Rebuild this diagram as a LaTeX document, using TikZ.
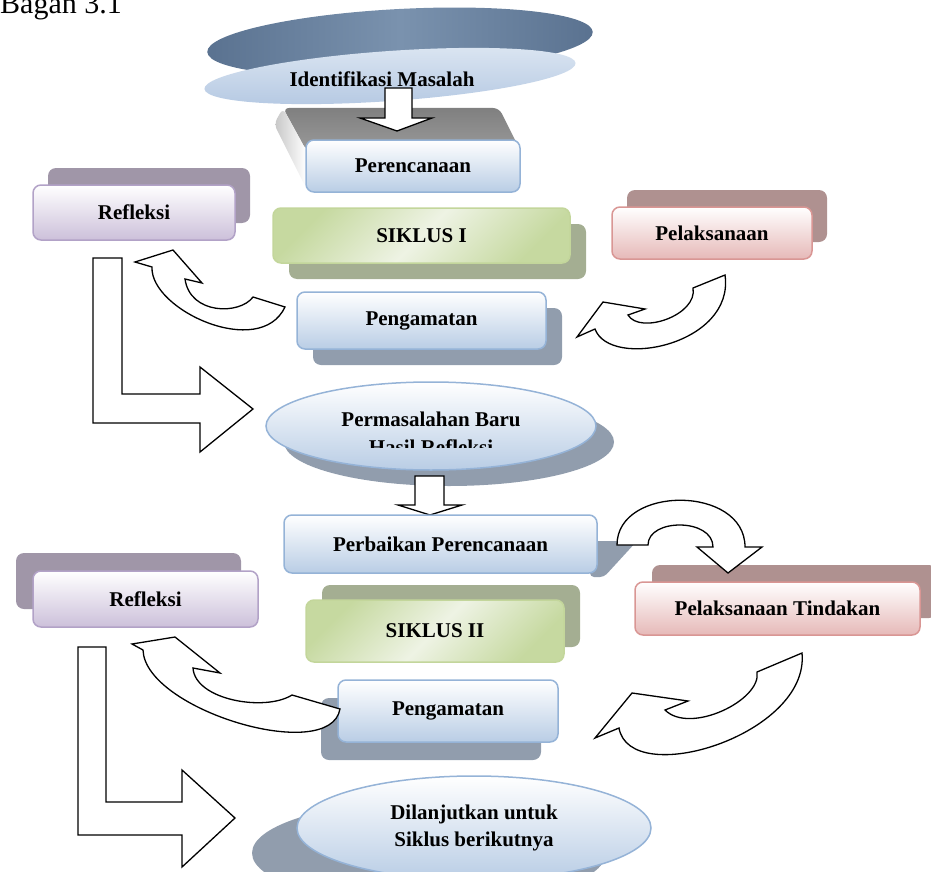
\documentclass[tikz,border=0pt]{standalone}
\usepackage{fontspec}
\setmainfont{Liberation Serif}
\usetikzlibrary{shapes.geometric,shadows}
\definecolor{purpleline}{HTML}{B2A2C7}
\definecolor{purplefill}{HTML}{CCC0DA}
\definecolor{purpleshade}{HTML}{A096A8}
\definecolor{blueline}{HTML}{95B3D7}
\definecolor{bluefill}{HTML}{B9CDE5}
\definecolor{blueshade}{HTML}{919DAD}
\definecolor{greenline}{HTML}{C3D69B}
\definecolor{greenfill}{HTML}{C6D9A0}
\definecolor{greenlight}{HTML}{EEF3E4}
\definecolor{greenshade}{HTML}{A4AE92}
\definecolor{redline}{HTML}{D99694}
\definecolor{redfill}{HTML}{E6B9B8}
\definecolor{redshade}{HTML}{AF9190}
\definecolor{slate}{HTML}{5A7290}
\definecolor{slatelight}{HTML}{7A92AE}
\definecolor{identtop}{HTML}{DCE6F2}
\definecolor{identbottom}{HTML}{B4C8E2}
\begin{document}
\begin{tikzpicture}[x=1pt, y=-1pt,
    box/.style={rectangle, rounded corners=8pt, line width=1.5pt, inner sep=0pt,
    align=center, font=\bfseries\fontsize{21}{27}\selectfont},
    purplebox/.style={box, draw=purpleline, top color=white, bottom color=purplefill},
    bluebox/.style={box, draw=blueline, top color=white, bottom color=bluefill},
    redbox/.style={box, draw=redline, top color=white, bottom color=redfill},
    greenbox/.style={box, draw=greenline, left color=greenfill, right color=greenfill,
    middle color=greenlight, shading angle=45},
    oval/.style={bluebox, ellipse},
    purpleshadow/.style 2 args={general shadow={fill=purpleshade, shadow xshift=#1pt, shadow yshift=#2pt}},
    blueshadow/.style 2 args={general shadow={fill=blueshade, shadow xshift=#1pt, shadow yshift=#2pt}},
    greenshadow/.style 2 args={general shadow={fill=greenshade, shadow xshift=#1pt, shadow yshift=#2pt}},
    redshadow/.style 2 args={general shadow={fill=redshade, shadow xshift=#1pt, shadow yshift=#2pt}},
    barrow/.style={draw, fill=white, line width=1.3pt}]

\useasboundingbox (0,0) rectangle (931,872);

\node [anchor=base west, inner sep=0pt, font=\fontsize{30}{36}\selectfont] (bagan) at (0,14) {Bagan 3.1};

\shade [left color=slate, right color=slate, middle color=slatelight, rotate around={3:(400,42)}]
    (400,42) ellipse [x radius=193pt, y radius=33pt];
\shade [top color=identtop, bottom color=identbottom, rotate around={4:(390,76)}]
    (390,76) ellipse [x radius=186pt, y radius=25pt];
\node [font=\bfseries\fontsize{21}{27}\selectfont] (ident) at (382,79) {Identifikasi Masalah};

\shade [top color=gray, bottom color=gray!80, rounded corners=6pt]
    (283,108) -- (499,108) -- (520,150) -- (306,150) -- cycle;
\shade [left color=gray!45, right color=white, rounded corners=6pt]
    (283,108) -- (306,150) -- (306,188) -- (274,124) -- cycle;
\draw [barrow] (385,88) -- (412,88) -- (412,118) -- (432,118) -- (397,131) -- (360,118) -- (385,118) -- cycle;
\node [bluebox, minimum width=214pt, minimum height=52pt] (renc) at (413,166) {Perencanaan};

\node [purplebox, purpleshadow={15}{17}, minimum width=202pt, minimum height=55pt] (refl1) at (134,212.5) {Refleksi};
\node [greenbox, greenshadow={16}{-16}, minimum width=297pt, minimum height=55pt] (siklus1) at (421.5,235.5) {SIKLUS I};
\node [redbox, redshadow={15}{17}, minimum width=200pt, minimum height=52pt] (pelak1) at (712,233) {Pelaksanaan};
\node [bluebox, blueshadow={16}{-16}, minimum width=249pt, minimum height=57pt] (amat1) at (421.5,320.5) {Pengamatan};

\draw [barrow] (285,307) -- (253,297) .. controls (240,315) and (190,315) .. (185,279) -- (202,283)
    -- (173,250) -- (135,262) -- (152,267) .. controls (150,310) and (260,360) .. (285,307) -- cycle;
\draw [barrow] (725,275) -- (693,288) .. controls (698,315) and (640,335) .. (628,315) -- (645,309)
    -- (603,302) -- (577,337) -- (595,329) .. controls (610,370) and (735,345) .. (725,275) -- cycle;
\draw [barrow] (93,258) -- (122,258) -- (122,394) -- (200,394) -- (200,367) -- (253,409)
    -- (200,452) -- (200,423) -- (93,423) -- cycle;

\node [oval, blueshadow={18}{-16}, minimum width=330pt, minimum height=88pt] (masalah) at (431,426) {};
\begin{scope}
\clip (0,0) rectangle (931,447);
\node [align=center, font=\bfseries\fontsize{21}{28}\selectfont] (masalahtext) at (431,433) {Permasalahan Baru\\Hasil Refleksi};
\end{scope}
\draw [barrow] (415,476) -- (444,476) -- (444,505) -- (462,505) -- (430,515) -- (398,505) -- (415,505) -- cycle;

\fill [blueshade, rounded corners=4pt] (590,541) -- (637,541) -- (604,577) -- (590,577) -- cycle;
\node [bluebox, minimum width=313pt, minimum height=58pt] (perbaikan) at (440.5,544) {Perbaikan Perencanaan};

\node [purplebox, purpleshadow={-17}{18}, minimum width=225pt, minimum height=56pt] (refl2) at (145.5,599) {Refleksi};
\node [greenbox, greenshadow={16}{15}, minimum width=258pt, minimum height=62pt] (siklus2) at (435,631) {SIKLUS II};
\node [redbox, redshadow={17}{17}, minimum width=285pt, minimum height=53pt] (tindakan) at (777.5,608.5) {Pelaksanaan Tindakan};
\node [bluebox, blueshadow={-17}{-18}, minimum width=220pt, minimum height=62pt] (amat2) at (448,711) {Pengamatan};

\draw [barrow] (617,545) .. controls (617,485) and (745,485) .. (745,547) -- (762,547) -- (728,573)
    -- (697,547) -- (713,547) .. controls (713,518) and (648,518) .. (648,545) -- cycle;
\draw [barrow] (340,709) -- (292,695) .. controls (265,712) and (195,700) .. (193,668) -- (220,673)
    -- (175,637) -- (132,644) -- (143,650) .. controls (145,710) and (330,765) .. (340,709) -- cycle;
\draw [barrow] (802,653) -- (757,672) .. controls (762,700) and (690,735) .. (665,710) -- (688,701)
    -- (632,693) -- (595,738) -- (619,728) .. controls (630,790) and (810,735) .. (802,653) -- cycle;
\draw [barrow] (78,647) -- (106,647) -- (106,802) -- (182,802) -- (182,770) -- (235,818)
    -- (182,867) -- (182,835) -- (78,835) -- cycle;

\node [oval, blueshadow={-45}{-25}, minimum width=354pt, minimum height=104pt] (lanjut) at (474,828)
    {Dilanjutkan untuk\\Siklus berikutnya};
\end{tikzpicture}
\end{document}
